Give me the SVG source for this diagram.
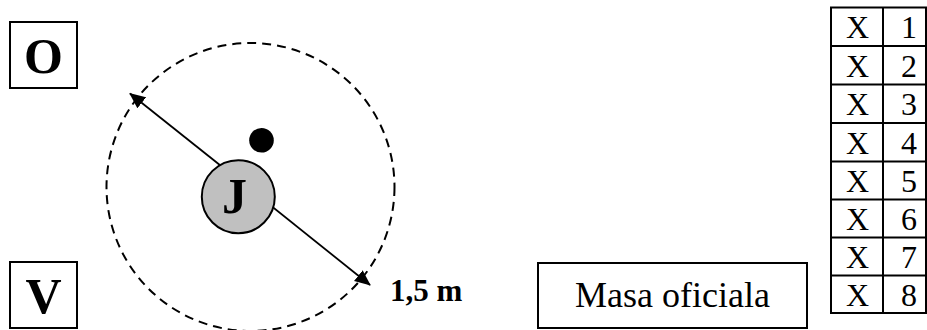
<svg xmlns="http://www.w3.org/2000/svg" width="927" height="330" viewBox="0 0 927 330">
<style>
.box{fill:#fff;stroke:#000;stroke-width:2}
.big{font-family:"Liberation Serif",serif;font-weight:bold;font-size:50px;text-anchor:middle}
.cell{font-family:"Liberation Serif",serif;font-size:32px;text-anchor:middle}
.tl{stroke:#000;stroke-width:2;fill:none}
</style>
<defs>
<marker id="ah" markerWidth="16" markerHeight="14" refX="15" refY="7" orient="auto" markerUnits="userSpaceOnUse">
<path d="M0,0 L16,7 L0,14 Z" fill="#000"/>
</marker>
</defs>
<rect width="927" height="330" fill="#fff"/>
<g id="ring">
<circle cx="250.5" cy="187" r="144" fill="none" stroke="#000" stroke-width="2" stroke-dasharray="9,6"/>
</g>
<g id="connectors">
<line x1="250" y1="189" x2="130" y2="93.5" stroke="#000" stroke-width="1.8" marker-end="url(#ah)"/>
<line x1="250" y1="189" x2="370" y2="285" stroke="#000" stroke-width="1.8" marker-end="url(#ah)"/>
</g>
<g id="ball"><circle cx="261.5" cy="140.3" r="12.3" fill="#000"/></g>
<g id="J">
<circle cx="238.3" cy="196.7" r="36.5" fill="#c0c0c0" stroke="#000" stroke-width="2"/>
<text x="234.5" y="213" class="big" style="font-size:50px">J</text>
</g>
<g id="O">
<rect x="10" y="22" width="67" height="66" class="box"/>
<text x="43.5" y="73" class="big">O</text>
</g>
<g id="V">
<rect x="10" y="262" width="67" height="66" class="box"/>
<text x="43.5" y="313" class="big">V</text>
</g>
<g id="dist">
<text x="390" y="301" font-family="Liberation Serif,serif" font-weight="bold" font-size="31">1,5 m</text>
</g>
<g id="masa">
<rect x="538" y="263" width="269" height="65" class="box"/>
<text x="672.5" y="307" font-family="Liberation Serif,serif" font-size="36" text-anchor="middle">Masa oficiala</text>
</g>
<g id="table">
<rect x="831" y="7.5" width="95" height="305.5" class="tl"/>
<line x1="883" y1="7.5" x2="883" y2="313" class="tl"/>
<line x1="831" y1="46" x2="926" y2="46" class="tl"/>
<line x1="831" y1="84.5" x2="926" y2="84.5" class="tl"/>
<line x1="831" y1="123" x2="926" y2="123" class="tl"/>
<line x1="831" y1="161.5" x2="926" y2="161.5" class="tl"/>
<line x1="831" y1="199.5" x2="926" y2="199.5" class="tl"/>
<line x1="831" y1="237.5" x2="926" y2="237.5" class="tl"/>
<line x1="831" y1="275.5" x2="926" y2="275.5" class="tl"/>
<text x="857.5" y="38" class="cell">X</text><text x="909" y="38" class="cell">1</text>
<text x="857.5" y="76.5" class="cell">X</text><text x="909" y="76.5" class="cell">2</text>
<text x="857.5" y="115" class="cell">X</text><text x="909" y="115" class="cell">3</text>
<text x="857.5" y="153.5" class="cell">X</text><text x="909" y="153.5" class="cell">4</text>
<text x="857.5" y="191.5" class="cell">X</text><text x="909" y="191.5" class="cell">5</text>
<text x="857.5" y="229.5" class="cell">X</text><text x="909" y="229.5" class="cell">6</text>
<text x="857.5" y="267.5" class="cell">X</text><text x="909" y="267.5" class="cell">7</text>
<text x="857.5" y="305.5" class="cell">X</text><text x="909" y="305.5" class="cell">8</text>
</g>
</svg>
